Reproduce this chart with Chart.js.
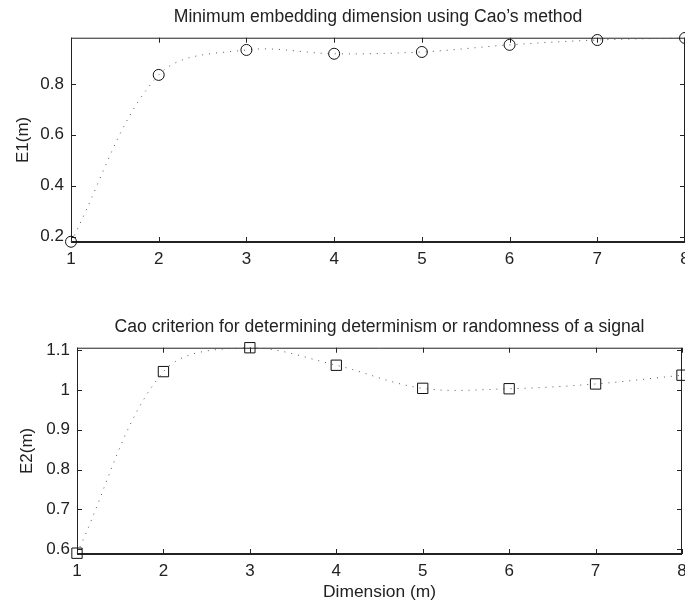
<!DOCTYPE html>
<html>
<head>
<meta charset="utf-8">
<script src="https://cdn.jsdelivr.net/npm/chart.js@4/dist/chart.umd.min.js"></script>
<style>
html,body{margin:0;padding:0;background:#fff;overflow:hidden;width:685px;height:602px;}
.box{position:absolute;left:0;width:685px;}
#b1{top:0;height:280px;}
#b2{top:300px;height:312px;}
</style>
</head>
<body>
<div class="box" id="b1"><canvas id="c1"></canvas></div>
<div class="box" id="b2"><canvas id="c2"></canvas></div>
<script>
// ---- data ----
const dims = [1, 2, 3, 4, 5, 6, 7, 8];
const e1 = [0.18, 0.835, 0.933, 0.918, 0.925, 0.953, 0.972, 0.980];
const e2 = [0.59, 1.046, 1.106, 1.062, 1.004, 1.003, 1.015, 1.037];
const xTicks = [1, 2, 3, 4, 5, 6, 7, 8];
const e1Ticks = [0.2, 0.4, 0.6, 0.8];
const e2Ticks = [0.6, 0.7, 0.8, 0.9, 1.0, 1.1];
const title1 = "Minimum embedding dimension using Cao\u2019s method";
const title2 = "Cao criterion for determining determinism or randomness of a signal";

Chart.defaults.font.family = "'Liberation Sans', Arial, Helvetica, sans-serif";
Chart.defaults.font.size = 17;
Chart.defaults.color = '#222';
Chart.defaults.animation = false;

const framePlugin = {
  id: 'frame',
  beforeDatasetsDraw(chart) {
    const ctx = chart.ctx;
    const {left, right, top, bottom} = chart.chartArea;
    const xs = chart.scales.x, ys = chart.scales.y;
    ctx.save();
    ctx.strokeStyle = '#222';
    ctx.lineWidth = 1;
    ctx.beginPath();
    ctx.moveTo(left + 0.5, top + 0.5); ctx.lineTo(right - 0.5, top + 0.5);
    ctx.moveTo(left + 0.5, top); ctx.lineTo(left + 0.5, bottom);
    ctx.moveTo(right - 0.5, top); ctx.lineTo(right - 0.5, bottom);
    const tl = 5;
    xs.ticks.forEach(t => {
      const px = Math.round(xs.getPixelForValue(t.value)) + 0.5;
      ctx.moveTo(px, bottom); ctx.lineTo(px, bottom - tl);
      ctx.moveTo(px, top); ctx.lineTo(px, top + tl);
    });
    ys.ticks.forEach(t => {
      const py = Math.round(ys.getPixelForValue(t.value)) + 0.5;
      ctx.moveTo(left, py); ctx.lineTo(left + tl, py);
      ctx.moveTo(right, py); ctx.lineTo(right - tl, py);
    });
    ctx.stroke();
    ctx.lineWidth = 2;
    ctx.beginPath();
    ctx.moveTo(left, bottom); ctx.lineTo(right, bottom);
    ctx.stroke();
    ctx.restore();
  }
};

function makeChart(id, values, yTicks, ymin, ymax, style, radius, cfg) {
  return new Chart(document.getElementById(id), {
    type: 'line',
    data: {
      datasets: [{
        data: dims.map((d, i) => ({x: d, y: values[i]})),
        borderColor: '#555',
        borderWidth: 1,
        borderDash: [1, 6],
        tension: 0.35,
        pointStyle: style,
        pointRadius: radius,
        pointBorderColor: '#111',
        pointBorderWidth: 1,
        pointBackgroundColor: 'rgba(0,0,0,0)',
        clip: false
      }]
    },
    options: {
      responsive: true,
      maintainAspectRatio: false,
      layout: {autoPadding: false, padding: {left: 0, right: cfg.padRight, top: 0, bottom: 0}},
      plugins: {
        legend: {display: false},
        tooltip: {enabled: false},
        title: {
          display: true,
          text: cfg.title,
          fullSize: false,
          color: '#222',
          font: {size: 17.6, weight: 'normal'},
          padding: {top: cfg.titleTop, bottom: cfg.titleBottom}
        }
      },
      scales: {
        x: {
          type: 'linear',
          min: 1, max: 8,
          grid: {display: false, drawTicks: false},
          border: {display: false},
          afterBuildTicks: s => { s.ticks = xTicks.map(v => ({value: v})); },
          afterFit: s => { s.height = cfg.xHeight; s.paddingLeft = 0; s.paddingRight = 0; },
          ticks: {padding: 7, font: {size: 17}, color: '#222'},
          title: cfg.xTitle ? {display: true, text: cfg.xTitle, font: {size: 17.4}, color: '#222', padding: {top: 0, bottom: cfg.xTitlePad}} : {display: false}
        },
        y: {
          min: ymin, max: ymax,
          grid: {display: false, drawTicks: false},
          border: {display: false},
          afterBuildTicks: s => { s.ticks = yTicks.map(v => ({value: v})); },
          afterFit: s => { s.width = cfg.yWidth; s.paddingTop = 0; s.paddingBottom = 0; },
          ticks: {padding: cfg.yPad, font: {size: 17}, color: '#222', callback: v => String(Math.round(v * 10) / 10)},
          title: {display: true, text: cfg.yTitle, font: {size: 17}, color: '#222', padding: {top: cfg.yTitlePad, bottom: 0}}
        }
      }
    },
    plugins: [framePlugin]
  });
}

makeChart('c1', e1, e1Ticks, 0.179, 0.981, 'circle', 5.5, {
  title: title1, titleTop: 6.8, titleBottom: 9.8, padRight: 0,
  xHeight: 38, yWidth: 71, yPad: 7, yTitle: 'E1(m)', yTitlePad: 13
});
makeChart('c2', e2, e2Ticks, 0.588, 1.106, 'rect', 7.3, {
  title: title2, titleTop: 16.8, titleBottom: 9.8, padRight: 3,
  xHeight: 58, yWidth: 77, yPad: 7, yTitle: 'E2(m)', yTitlePad: 17,
  xTitle: 'Dimension (m)', xTitlePad: 9.8
});
</script>
</body>
</html>
